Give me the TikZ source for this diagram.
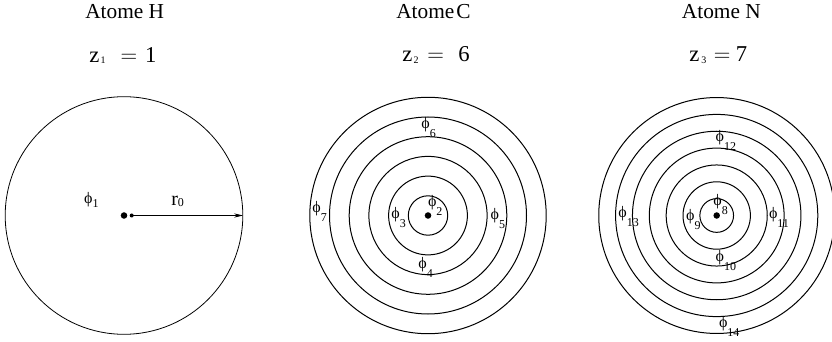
\documentclass[tikz,border=0pt]{standalone}
\usepackage{fontspec}
\setmainfont{Liberation Serif}
\usetikzlibrary{arrows.meta,calc}
\newcommand{\phiglyph}{{\fontsize{12pt}{14pt}\selectfont ϕ}}
\newcommand{\phisub}[2]{\raisebox{-#2pt}{\fontsize{9pt}{10pt}\selectfont #1}}
\newcommand{\plab}[4]{\node[phil] (#1) at ($(#2)+(-4.3,3.8)$) {\phiglyph\phisub{#3}{#4}};}
\newcommand{\zsub}[1]{\raisebox{-1pt}{\fontsize{7.5pt}{9pt}\selectfont #1}}
\begin{document}
\begin{tikzpicture}[x=0.75pt,y=-0.75pt,
  ring/.style={line width=0.75pt},
  thinring/.style={line width=0.6pt},
  phil/.style={anchor=base west, inner sep=0pt, outer sep=0pt},
  titletext/.style={anchor=base west, inner sep=0pt, font=\fontsize{16pt}{19pt}\selectfont},
  zline/.style={anchor=base west, inner sep=0pt, font=\fontsize{17pt}{20pt}\selectfont},
  nucleus/.style={circle, fill=black, inner sep=0pt, minimum size=4.9pt},
  smalldot/.style={circle, fill=black, inner sep=0pt, minimum size=3pt},
  radiusarrow/.style={line width=0.6pt, -{Stealth[length=6.5pt,width=3.2pt]}}]
\useasboundingbox (0,0) rectangle (832,342);
\clip (0,0) rectangle (832,342);

% titles
\node[titletext] (tH) at (85,18.5) {Atome H};
\node[titletext] (tC) at (396,18.5) {Atome\hspace{0.1em}C};
\node[titletext] (tN) at (681.7,18.5) {Atome N};

% charges
\node[zline] (zH) at (89,62.5) {z\hspace{0.9pt}\zsub{1}\hspace{11.4pt}$=$\hspace{5.8pt}1};
\node[zline] (zC) at (402,62) {z\hspace{0.9pt}\zsub{2}\hspace{6.6pt}$=$\hspace{10.9pt}6};
\node[zline] (zN) at (689,62) {z\hspace{1.6pt}\zsub{3}\hspace{5.6pt}$=$\hspace{4.1pt}7};

% hydrogen
\coordinate (cH) at (124,215.5);
\draw[thinring] (cH) circle (118.8);
\node[nucleus] (nH) at (cH) {};
\node[smalldot] (sH) at (131.7,215.5) {};
\coordinate (eH) at (242.8,215.5);
\draw[radiusarrow] (sH.center) -- (eH);
\node[anchor=base west, inner sep=0pt, font=\fontsize{15pt}{17pt}\selectfont] (r0) at (171,205.5) {r\raisebox{-1pt}{\fontsize{9pt}{10pt}\selectfont 0}};
\plab{p1}{88.5,199.5}{1}{3.5}

% carbon
\coordinate (cC) at (428,215.5);
\foreach \k in {1,...,6} \draw[ring] (cC) circle ({19.7*\k});
\node[nucleus] (nC) at (cC) {};
\plab{p2}{432.3,202.3}{2}{6.8}
\plab{p3}{395.7,215}{3}{6.8}
\plab{p4}{422.7,265}{4}{6.8}
\plab{p5}{495,215.7}{5}{6.8}
\plab{p6}{425.7,125}{6}{6.8}
\plab{p7}{316.7,208.3}{7}{6.8}

% nitrogen
\coordinate (cN) at (716.7,215.5);
\foreach \k in {1,...,7} \draw[ring] (cN) circle ({16.85*\k});
\node[nucleus] (nN) at (cN) {};
\plab{p8}{717.7,201.7}{8}{7}
\plab{p9}{690.5,216.5}{9}{6.8}
\plab{p10}{720,257.5}{10}{6.8}
\plab{p11}{773.3,215}{11}{6.8}
\plab{p12}{720,137.3}{12}{6.8}
\plab{p13}{622.7,214}{13}{6.8}
\plab{p14}{723.3,323.3}{14}{6.8}
\end{tikzpicture}
\end{document}
